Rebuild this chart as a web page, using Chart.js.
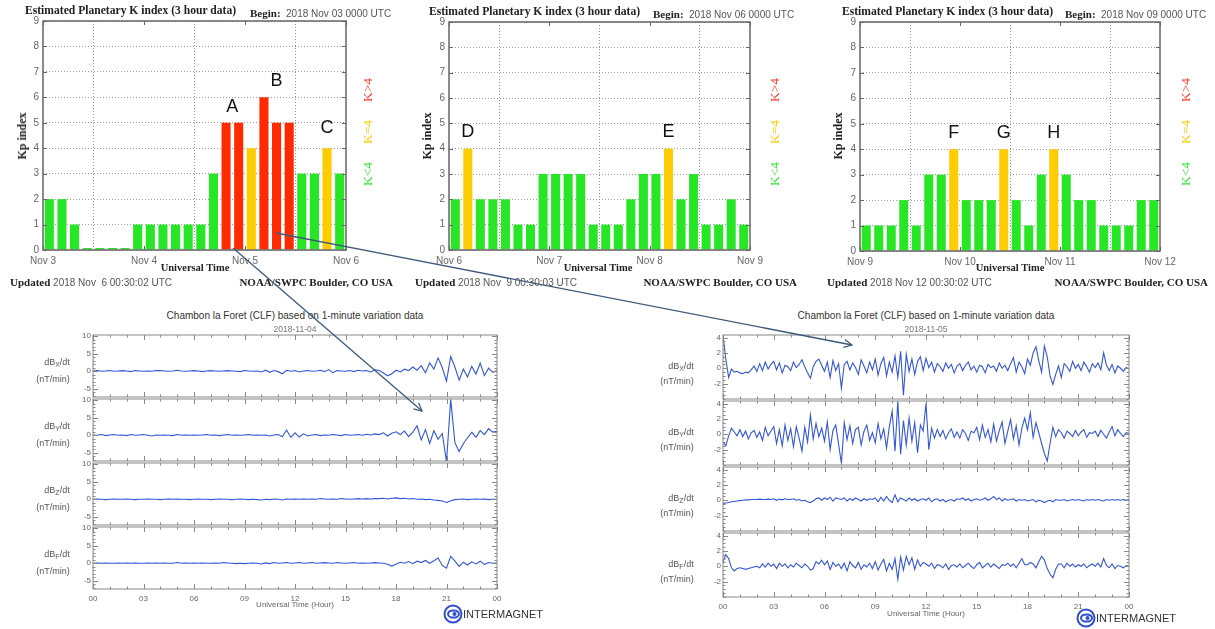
<!DOCTYPE html>
<html>
<head>
<meta charset="utf-8">
<script src="https://cdn.jsdelivr.net/npm/chart.js@4.4.1/dist/chart.umd.min.js"></script>
<style>
  body { margin: 0; background: #fff; }
  #page { position: relative; width: 1215px; height: 629px; overflow: hidden; font-family: 'Liberation Sans', Arial, sans-serif; }
  canvas { position: absolute; }
  .t { position: absolute; white-space: nowrap; line-height: 1; transform: translateY(-50%); z-index: 5; }
  .c { transform: translate(-50%, -50%); }
  .r { transform: translate(-100%, -50%); }
  .rot { transform: translate(-50%, -50%) rotate(-90deg); }
  .serif { font-family: 'Liberation Serif', 'DejaVu Serif', serif; font-weight: bold; color: #222; }
  .gray { font-family: 'Liberation Sans', Arial, sans-serif; font-weight: normal; color: #555; }
  .leg { font-family: 'Liberation Serif', serif; font-size: 13.5px; }
  .idl { font-family: 'Liberation Sans', Arial, sans-serif; color: #333; }
  svg { position: absolute; left: 0; top: 0; z-index: 6; pointer-events: none; }
</style>
</head>
<body>
<div id="page"></div>
<script>
// ---------------- Kp index (3 hour bins) ----------------
const kpDays1 = ['Nov 3', 'Nov 4', 'Nov 5', 'Nov 6'];
const kpDays2 = ['Nov 6', 'Nov 7', 'Nov 8', 'Nov 9'];
const kpDays3 = ['Nov 9', 'Nov 10', 'Nov 11', 'Nov 12'];
const kpValues1 = [2, 2, 1, 0, 0, 0, 0, 1,  1, 1, 1, 1, 1, 3, 5, 5,  4, 6, 5, 5, 3, 3, 4, 3];
const kpValues2 = [2, 4, 2, 2, 2, 1, 1, 3,  3, 3, 3, 1, 1, 1, 2, 3,  3, 4, 2, 3, 1, 1, 2, 1];
const kpValues3 = [1, 1, 1, 2, 1, 3, 3, 4,  2, 2, 2, 4, 2, 1, 3, 4,  3, 2, 2, 1, 1, 1, 2, 2];
const kpTicks = [0, 1, 2, 3, 4, 5, 6, 7, 8, 9];

// ---------------- CLF 1-minute variation ----------------
const hourLabels = ['00', '03', '06', '09', '12', '15', '18', '21', '00'];
const ticksNov04 = [-5, 0, 5, 10];
const ticksNov05 = [-2, 0, 2, 4];

// 2018-11-04, 15 min steps (one row per hour)
const clf04Bx = [
  0.1, 0.2, 0.0, 0.1,   0.2, 0.0, 0.1, 0.2,   0.1, -0.1, 0.2, 0.1,   0.0, 0.1, 0.0, 0.2,
  0.2, 0.1, 0.0, 0.1,   0.3, 0.1, 0.0, 0.1,   0.2, 0.1, -0.1, 0.1,   0.2, 0.1, 0.0, 0.1,
  0.2, 0.1, 0.0, -0.1,  0.2, 0.1, 0.0, 0.1,   -0.2, 0.3, -0.3, 0.2,  -0.1, -0.7, 0.3, 0.0,
  0.2, -0.2, 0.1, 0.2,  0.0, 0.1, 0.3, -0.1,  0.5, -0.4, 0.2, 0.1,   0.0, 0.2, -0.1, 0.3,
  0.1, 0.2, -0.2, 0.4,  0.2, -0.5, -1.3, -0.7, 0.3, -0.2, 0.6, 0.2,  1.2, 0.3, 1.6, -0.4,
  2.4, 0.6, 3.8, 1.0,   -2.8, 4.2, 1.2, -2.5, 0.6, -1.6, 1.4, -0.8,  2.3, -1.2, 0.9, -0.3,
  0.2
];
const clf04By = [
  0.1, 0.0, 0.2, -0.1,  0.1, 0.2, 0.0, 0.1,   -0.1, 0.2, 0.0, 0.1,   0.2, 0.0, -0.2, 0.1,
  0.0, 0.1, 0.0, -0.1,  0.2, 0.0, 0.1, 0.0,   0.1, 0.0, 0.1, 0.2,    0.0, 0.1, -0.1, 0.1,
  0.2, 0.0, 0.1, 0.0,   0.1, 0.2, 0.0, 0.1,   0.0, 0.1, -0.2, 0.1,   0.2, -0.4, 1.5, -0.6,
  0.7, -0.5, 0.4, -0.2, 0.1, 0.2, -0.1, 0.1,  0.0, 0.2, 0.1, -0.1,   0.2, 0.0, 0.1, 0.2,
  0.0, 0.3, 0.1, 0.4,   0.2, 0.7, -0.2, 0.6,  1.0, 0.2, 1.2, -0.4,   0.9, 2.7, -1.3, 1.6,
  -2.3, 1.3, -1.1, 0.5, -7.5, 10.2, -2.1, -4.6, -2.4, -0.7, 0.8, -0.6, 1.3, 0.2, 1.9, 0.9,
  1.1
];
const clf04Bz = [
  0.0, 0.1, 0.0, -0.1,  0.0, 0.1, 0.0, 0.0,   0.1, 0.0, -0.1, 0.0,   0.0, 0.1, 0.0, 0.0,
  -0.1, 0.0, 0.1, 0.0,  0.1, 0.0, 0.0, -0.1,  0.0, 0.1, 0.0, 0.0,    -0.1, 0.0, 0.1, 0.0,
  0.0, -0.1, 0.0, 0.1,  0.0, -0.1, 0.0, -0.1, -0.2, 0.0, -0.1, 0.1,  0.0, -0.2, 0.1, 0.0,
  0.1, 0.0, 0.1, 0.0,   0.1, 0.0, 0.2, 0.1,   0.0, 0.1, 0.0, 0.2,    0.1, 0.0, 0.1, 0.2,
  0.1, 0.2, 0.1, 0.2,   0.2, 0.3, 0.1, 0.3,   0.4, 0.2, 0.3, 0.1,    0.2, 0.0, 0.1, -0.1,
  0.0, -0.2, -0.3, -0.5, -0.9, -0.4, -0.1, 0.0, 0.1, -0.1, 0.0, 0.1, 0.0, 0.1, -0.1, 0.0,
  0.0
];
const clf04Bf = [
  0.0, 0.1, 0.0, 0.1,   0.0, 0.0, 0.1, 0.0,   0.1, 0.0, 0.1, 0.0,    0.0, 0.1, 0.0, 0.1,
  0.0, 0.1, 0.0, 0.0,   0.2, 0.0, 0.1, 0.0,   0.1, 0.0, 0.1, 0.0,    0.0, 0.1, 0.0, 0.2,
  0.1, 0.0, -0.1, 0.0,  -0.1, 0.0, 0.1, 0.0,  -0.2, 0.1, -0.1, 0.2,  0.0, 0.1, 0.2, 0.0,
  0.1, 0.2, 0.0, 0.1,   0.2, 0.0, 0.1, 0.2,   0.1, 0.0, 0.2, 0.1,    0.0, 0.1, 0.2, 0.0,
  0.1, 0.0, 0.1, 0.2,   0.1, 0.0, -0.3, -0.8, -0.3, 0.3, 0.0, 0.5,   -0.1, 0.6, 0.2, 0.8,
  0.0, 0.7, 1.5, -0.6,  -1.4, 2.0, 0.6, -0.9, 0.3, -0.5, 0.4, -0.2,  0.6, -0.3, 0.2, 0.0,
  0.1
];

// 2018-11-05, 10 min steps (one row per hour)
const clf05Bx = [
  4.3, 1.2, -1.2, -0.1, -0.5, -0.4,
  -0.6, -0.7, -0.5, -0.6, -0.2, 0.3,
  -0.4, 0.6, -0.3, 0.8, -0.1, 0.5,
  0.9, -0.2, 0.7, -0.6, 0.4, 0.2,
  -0.3, 0.8, 0.1, 0.5, 1.1, 0.2,
  -0.6, -1.3, 0.2, 0.9, 1.2, 0.4,
  -0.4, 0.8, -1.2, 1.0, -0.3, 0.6,
  -2.6, 0.5, 0.9, -0.2, 0.7, 0.1,
  -0.8, 1.1, 0.3, -0.6, 0.8, -0.2,
  1.2, -0.9, 0.6, 1.4, -1.0, 0.8,
  -0.5, 1.6, -1.2, 2.2, -3.5, 1.8,
  -0.4, 1.2, -0.8, 0.9, 1.5, -0.3,
  1.3, 0.1, 0.8, -0.5, 0.6, 0.2,
  -0.4, 0.7, 0.0, 0.5, -0.6, 0.3,
  0.6, -0.3, 0.4, 0.8, -0.2, 0.3,
  -0.5, 0.4, 0.2, -0.6, 0.5, 0.1,
  0.3, -0.4, 0.7, 0.0, 0.4, -0.3,
  0.6, 1.4, -0.5, 0.8, 0.2, -0.7,
  1.2, 0.4, 2.0, 2.8, 1.0, -0.5,
  2.9, 1.5, -1.0, -2.1, -0.8, 0.3,
  -1.2, 0.6, 0.2, -0.4, 0.9, 0.0,
  0.5, -0.3, 0.8, 0.2, -0.5, 0.6,
  0.1, 0.7, -0.2, 2.0, 0.4, -0.3,
  0.5, -0.6, 0.3, 0.0, -0.4, 0.1,
  -0.1
];
const clf05By = [
  -1.0, -1.5, -0.2, 0.8, 0.3, -0.2,
  0.6, -0.3, 0.4, -0.6, 0.2, 0.5,
  -0.4, 0.3, -0.8, 0.9, -0.2, 0.4,
  1.0, -1.2, 0.6, -1.5, 1.2, -0.8,
  0.7, -1.6, 1.0, -0.5, -2.2, 0.9,
  -1.0, 2.5, -0.6, 1.4, -0.3, 0.8,
  -0.9, 1.6, -2.0, 0.5, 1.2, -1.3,
  -3.8, 1.5, -0.7, 1.1, -1.2, 0.6,
  0.9, -1.4, 0.4, 1.2, -0.8, 0.2,
  -1.1, 1.4, -0.6, 0.7, -1.8, 1.0,
  3.0, -2.2, 4.3, -2.6, 1.8, -1.4,
  2.1, -0.9, 1.5, -2.4, 1.2, 0.4,
  4.0, -2.0, 0.8, -0.5, 0.6, -0.3,
  0.5, -0.6, 0.2, 0.7, -0.4, 0.3,
  -0.5, 0.6, 0.1, -0.8, 0.4, 0.2,
  0.9, -0.7, 1.2, -0.4, 0.6, -1.0,
  1.3, -0.9, 0.5, 1.6, -1.2, 0.4,
  1.9, -0.6, 1.1, -1.4, 0.8, 2.1,
  0.6, 2.8, -0.4, 1.5, 0.2, -1.2,
  -2.5, -3.5, -1.2, 0.9, -0.3, 0.6,
  0.2, -0.5, 0.4, 0.1, -0.3, 0.5,
  -0.2, 0.3, 0.6, -0.4, 0.2, 0.1,
  0.4, -0.3, 0.5, 0.0, -0.5, 0.3,
  1.0, -0.2, 0.6, 0.1, -0.3, 0.2,
  0.1
];
const clf05Bz = [
  -0.4, -0.35, -0.3, -0.2, -0.15, -0.1,
  -0.05, 0.0, 0.05, 0.05, 0.1, 0.1,
  0.1, 0.15, 0.1, 0.1, 0.15, 0.1,
  0.2, 0.0, 0.15, 0.05, 0.2, 0.1,
  0.1, 0.2, 0.0, 0.1, -0.1, 0.0,
  -0.2, -0.3, -0.1, 0.2, 0.3, 0.0,
  0.3, 0.1, 0.4, -0.1, 0.3, 0.2,
  0.1, 0.3, -0.1, 0.2, 0.0, 0.3,
  0.1, -0.1, 0.2, 0.0, 0.2, 0.1,
  0.3, -0.2, 0.4, -0.1, 0.5, 0.0,
  -0.3, 0.7, -0.2, 0.3, 0.1, -0.1,
  0.3, 0.0, 0.2, -0.1, 0.1, 0.2,
  0.0, 0.3, -0.2, 0.1, 0.2, -0.1,
  0.1, -0.2, 0.0, 0.1, -0.1, 0.2,
  0.1, 0.3, 0.0, 0.2, -0.1, 0.1,
  0.2, 0.0, 0.1, 0.3, 0.0, 0.2,
  0.5, 0.1, 0.3, -0.1, 0.2, 0.0,
  0.1, 0.2, -0.1, 0.1, 0.0, 0.1,
  -0.1, 0.0, 0.1, -0.2, 0.0, -0.1,
  -0.3, -0.1, 0.0, -0.2, 0.1, 0.0,
  0.0, 0.1, -0.1, 0.0, 0.1, 0.0,
  0.1, 0.0, -0.1, 0.1, 0.0, 0.1,
  0.0, 0.1, 0.0, -0.1, 0.1, 0.0,
  0.1, 0.0, 0.1, 0.0, 0.1, 0.0,
  0.1
];
const clf05Bf = [
  0.5, 1.5, 1.0, -0.2, -0.6, -0.3,
  -0.2, -0.3, -0.4, -0.3, -0.2, -0.1,
  0.0, -0.2, 0.3, -0.1, 0.4, 0.0,
  0.3, -0.3, 0.4, 0.0, 0.3, -0.2,
  0.2, -0.1, 0.4, 0.1, -0.2, 0.3,
  0.0, -0.5, -0.3, 0.6, 0.3, 0.8,
  0.2, 0.7, -0.4, 0.5, 0.0, 0.3,
  -0.3, 0.4, -0.6, 0.6, 0.1, -0.2,
  0.5, -0.4, 0.2, -0.1, 0.4, -0.3,
  0.6, -0.5, 0.3, 0.9, -0.6, 0.4,
  -0.4, 1.0, -1.7, 1.2, -0.5, 1.3,
  0.2, 1.1, -0.4, 0.8, 0.0, 0.5,
  0.3, 0.0, 0.4, -0.3, 0.2, 0.1,
  -0.2, 0.3, -0.4, 0.1, 0.2, -0.1,
  0.3, -0.2, 0.1, 0.4, 0.0, -0.3,
  0.2, 0.5, -0.2, 0.1, 0.4, -0.1,
  0.3, 0.0, -0.3, 0.2, 0.1, 0.4,
  0.0, 0.3, -0.2, 0.4, 1.0, 0.2,
  0.2, 0.5, 0.3, -0.2, 0.6, 1.3,
  0.8, -0.3, -1.0, -1.5, -0.4, 0.3,
  0.3, -0.2, 0.4, 0.0, 0.3, -0.1,
  0.2, 0.0, 0.3, -0.2, 0.1, 0.3,
  0.0, 0.4, -0.1, 1.0, 0.1, -0.2,
  0.3, -0.3, 0.1, 0.0, -0.2, 0.1,
  0.0
];

// ---------------- helpers ----------------
const page = document.getElementById('page');
const SANS = "'Liberation Sans', Arial, sans-serif";

function addText(html, x, y, cls, style) {
  const d = document.createElement('div');
  d.className = 't ' + (cls || '');
  d.innerHTML = html;
  d.style.left = x + 'px';
  d.style.top = y + 'px';
  if (style) d.style.cssText += style;
  page.appendChild(d);
  return d;
}

function makeCanvas(rect) {
  const c = document.createElement('canvas');
  c.width = rect.w; c.height = rect.h;
  c.style.left = rect.x + 'px'; c.style.top = rect.y + 'px';
  c.style.width = rect.w + 'px'; c.style.height = rect.h + 'px';
  page.appendChild(c);
  return c;
}

// pins the chart area to the given page box
function fixBox(rect, area, xShown) {
  return {
    padding: {
      left: 0,
      top: area.t - rect.y,
      right: rect.x + rect.w - area.r,
      bottom: xShown ? 0 : rect.y + rect.h - area.b
    },
    yWidth: area.l - rect.x,
    xHeight: xShown ? rect.y + rect.h - area.b : 0
  };
}

// frame around the plot with IDL style inward ticks
const framePlugin = {
  id: 'frame',
  afterDatasetsDraw(chart, args, o) {
    const { ctx, chartArea: a, scales: { x, y } } = chart;
    ctx.save();
    ctx.strokeStyle = o.color || '#666';
    ctx.lineWidth = 1;
    const xt = (vals, len) => (vals || []).forEach(v => {
      const px = Math.round(x.getPixelForValue(v)) + 0.5;
      ctx.beginPath();
      ctx.moveTo(px, a.bottom); ctx.lineTo(px, a.bottom - len);
      ctx.moveTo(px, a.top); ctx.lineTo(px, a.top + len);
      ctx.stroke();
    });
    const yt = (vals, len) => (vals || []).forEach(v => {
      const py = Math.round(y.getPixelForValue(v)) + 0.5;
      ctx.beginPath();
      ctx.moveTo(a.left, py); ctx.lineTo(a.left + len, py);
      ctx.moveTo(a.right, py); ctx.lineTo(a.right - len, py);
      ctx.stroke();
    });
    xt(o.xMinor, o.minorLen); xt(o.xMajor, o.majorLen);
    yt(o.yMinor, o.minorLen); yt(o.yMajor, o.majorLen);
    ctx.lineWidth = o.width || 1.5;
    ctx.strokeRect(a.left, a.top, a.right - a.left, a.bottom - a.top);
    ctx.restore();
  }
};

// big letters A..H above chosen bars
const letterPlugin = {
  id: 'letters',
  afterDatasetsDraw(chart, args, o) {
    const { ctx, scales: { x, y } } = chart;
    ctx.save();
    ctx.font = "18px 'Liberation Sans', Arial, sans-serif";
    ctx.fillStyle = '#111';
    ctx.textAlign = 'center';
    ctx.textBaseline = 'middle';
    (o.items || []).forEach(it => ctx.fillText(it.text, x.getPixelForValue(it.x), y.getPixelForValue(it.y)));
    ctx.restore();
  }
};

function kpColor(v) {
  if (v > 4) return '#ff2a00';
  if (v === 4) return '#ffcc00';
  return '#26e626';
}

function kpChart(x0, area, values, days, letters) {
  const rect = { x: x0, y: 0, w: 405, h: 290 };
  const box = fixBox(rect, area, true);
  return new Chart(makeCanvas(rect), {
    type: 'bar',
    data: {
      datasets: [{
        data: values.map((v, i) => ({ x: i + 0.5, y: v })),
        backgroundColor: values.map(kpColor),
        barPercentage: 0.72,
        categoryPercentage: 1,
        minBarLength: 2,
        borderWidth: 0
      }]
    },
    options: {
      responsive: false,
      animation: false,
      devicePixelRatio: 1,
      layout: { padding: box.padding },
      plugins: {
        legend: { display: false },
        tooltip: { enabled: false },
        frame: { xMajor: [0, 8, 16, 24], yMajor: kpTicks, majorLen: 4, color: '#666', width: 1.5 },
        letters: { items: letters }
      },
      scales: {
        x: {
          type: 'linear', min: 0, max: 24, offset: false,
          afterFit: s => { s.height = box.xHeight; },
          afterBuildTicks: s => { s.ticks = days.map((d, i) => ({ value: i * 8 })); },
          ticks: { callback: (v, i) => days[i], font: { family: SANS, size: 10 }, color: '#666', padding: 5, maxRotation: 0, autoSkip: false },
          grid: { color: '#9a9a9a', drawTicks: false },
          border: { display: false, dash: [1, 2] }
        },
        y: {
          min: 0, max: 9,
          afterFit: s => { s.width = box.yWidth; },
          afterBuildTicks: s => { s.ticks = kpTicks.map(v => ({ value: v })); },
          ticks: { font: { family: SANS, size: 10 }, color: '#666', padding: 4 },
          grid: { color: '#9a9a9a', drawTicks: false },
          border: { display: false, dash: [1, 2] }
        }
      }
    },
    plugins: [framePlugin, letterPlugin]
  });
}

const hourMajor = [], hourMinor = [];
for (let h = 0; h <= 24; h++) { hourMinor.push(h); if (h % 3 === 0) hourMajor.push(h); }

function traceChart(rect, area, values, yMin, yMax, yTicks, yMinorStep, showX) {
  const box = fixBox(rect, area, showX);
  const n = values.length;
  const yMinor = [];
  for (let v = Math.ceil(yMin / yMinorStep) * yMinorStep; v <= yMax; v += yMinorStep) yMinor.push(v);
  return new Chart(makeCanvas(rect), {
    type: 'line',
    data: {
      datasets: [{
        data: values.map((v, i) => ({ x: i * 24 / (n - 1), y: v })),
        borderColor: '#3456d6',
        borderWidth: 1.1,
        pointRadius: 0,
        tension: 0
      }]
    },
    options: {
      responsive: false,
      animation: false,
      devicePixelRatio: 1,
      layout: { padding: box.padding },
      plugins: {
        legend: { display: false },
        tooltip: { enabled: false },
        frame: { xMajor: hourMajor, xMinor: hourMinor, yMajor: yTicks, yMinor: yMinor, majorLen: 5, minorLen: 2.5, color: '#888', width: 1 }
      },
      scales: {
        x: {
          type: 'linear', min: 0, max: 24, display: showX,
          afterFit: s => { if (showX) s.height = box.xHeight; },
          afterBuildTicks: s => { s.ticks = hourLabels.map((h, i) => ({ value: i * 3 })); },
          ticks: { callback: (v, i) => hourLabels[i], font: { family: SANS, size: 8 }, color: '#666', padding: 5, maxRotation: 0, autoSkip: false },
          grid: { display: false, drawTicks: false },
          border: { display: false }
        },
        y: {
          min: yMin, max: yMax,
          afterFit: s => { s.width = box.yWidth; },
          afterBuildTicks: s => { s.ticks = yTicks.map(v => ({ value: v })); },
          ticks: { font: { family: SANS, size: 8 }, color: '#666', padding: 2 },
          grid: { display: false, drawTicks: false },
          border: { display: false }
        }
      }
    },
    plugins: [framePlugin]
  });
}

// ---------------- Kp panels ----------------
kpChart(0, { l: 43, r: 346, t: 21, b: 250 }, kpValues1, kpDays1, [
  { text: 'A', x: 15, y: 5.6 }, { text: 'B', x: 18.5, y: 6.65 }, { text: 'C', x: 22.5, y: 4.8 }
]);
kpChart(405, { l: 449, r: 750, t: 22, b: 250 }, kpValues2, kpDays2, [
  { text: 'D', x: 1.5, y: 4.65 }, { text: 'E', x: 17.5, y: 4.65 }
]);
kpChart(810, { l: 860, r: 1160, t: 22, b: 251 }, kpValues3, kpDays3, [
  { text: 'F', x: 7.5, y: 4.65 }, { text: 'G', x: 11.5, y: 4.65 }, { text: 'H', x: 15.5, y: 4.65 }
]);

const kpText = [
  { title: 25, y: 11, begin: 250, date: '2018 Nov 03 0000 UTC', upd: 10, updDate: '2018 Nov &nbsp;6 00:30:02 UTC', noaa: 393, ylab: 22, xlab: 195, leg: 368 },
  { title: 429, y: 12, begin: 653, date: '2018 Nov 06 0000 UTC', upd: 415, updDate: '2018 Nov &nbsp;9 00:30:03 UTC', noaa: 797, ylab: 427, xlab: 598, leg: 775 },
  { title: 842, y: 12, begin: 1065, date: '2018 Nov 09 0000 UTC', upd: 827, updDate: '2018 Nov 12 00:30:02 UTC', noaa: 1208, ylab: 838, xlab: 1010, leg: 1186 }
];
kpText.forEach(k => {
  addText('Estimated Planetary K index (3 hour data)', k.title, k.y, 'serif', 'font-size:11.6px;');
  addText('Begin: &nbsp;<span class="gray" style="font-size:10px;">' + k.date + '</span>', k.begin, k.y + 2, 'serif', 'font-size:11px;');
  addText('Kp index', k.ylab, 136, 'serif rot', 'font-size:12px;');
  addText('Universal Time', k.xlab, 268, 'serif c', 'font-size:10.5px;');
  addText('Updated <span class="gray" style="font-size:10px;">' + k.updDate + '</span>', k.upd, 282, 'serif', 'font-size:11px;');
  addText('NOAA/SWPC Boulder, CO USA', k.noaa, 282, 'serif r', 'font-size:11px;');
  addText('K&gt;4', k.leg, 90, 'leg rot', 'color:#ff3a2a;');
  addText('K=4', k.leg, 132, 'leg rot', 'color:#ffcc00;');
  addText('K&lt;4', k.leg, 174, 'leg rot', 'color:#33e633;');
});

// ---------------- CLF panels ----------------
const comps = ['X', 'Y', 'Z', 'F'];
const panels = [
  { series: [clf04Bx, clf04By, clf04Bz, clf04Bf], date: '2018-11-04', l: 93, r: 497, tops: [335, 399, 463, 527], h: 62,
    yMin: -7.3, yMax: 10.3, ticks: ticksNov04, minor: 1, labX: 57, labDy: [28, 44], canvasX: 50, utY: 605, logoX: 453, logoY: 614 },
  { series: [clf05Bx, clf05By, clf05Bz, clf05Bf], date: '2018-11-05', l: 723, r: 1129, tops: [335, 401, 467, 533], h: 64,
    yMin: -4.0, yMax: 4.33, ticks: ticksNov05, minor: 0.5, labX: 681, labDy: [32, 46], canvasX: 680, utY: 614, logoX: 1086, logoY: 618 }
];
panels.forEach(p => {
  const mid = (p.l + p.r) / 2;
  addText('Chambon la Foret (CLF) based on 1-minute variation data', mid, 316, 'idl c', 'font-size:10px;');
  addText(p.date, mid, 329, 'idl c', 'font-size:8.5px;color:#777;');
  p.series.forEach((vals, k) => {
    const last = k === 3;
    const t = p.tops[k];
    const rect = { x: p.canvasX, y: t - 8, w: 470, h: p.h + 16 + (last ? 10 : 0) };
    traceChart(rect, { l: p.l, r: p.r, t: t, b: t + p.h }, vals, p.yMin, p.yMax, p.ticks, p.minor, last);
    addText('dB<sub style="font-size:7px;">' + comps[k] + '</sub>/dt', p.labX, t + p.labDy[0], 'idl c', 'font-size:9px;color:#555;');
    addText('(nT/min)', p.labX - 4, t + p.labDy[1], 'idl c', 'font-size:9px;color:#555;');
  });
  addText('Universal Time (Hour)', mid, p.utY, 'idl c', 'font-size:8px;color:#666;');
  addText('<svg width="20" height="20" viewBox="0 0 20 20" style="position:static;display:inline-block;vertical-align:middle;">' +
    '<circle cx="10" cy="10" r="8.5" fill="none" stroke="#2f4fd0" stroke-width="2"/>' +
    '<ellipse cx="10.5" cy="10" rx="5.5" ry="3.6" fill="none" stroke="#2f4fd0" stroke-width="2"/>' +
    '<circle cx="11.5" cy="10" r="2" fill="#2f4fd0"/></svg>' +
    '<span style="font-size:11px;color:#333;vertical-align:middle;">INTERMAGNET</span>', p.logoX - 10, p.logoY, 'idl');
});
</script>
<svg width="1215" height="629" viewBox="0 0 1215 629">
  <defs>
    <marker id="ah" markerWidth="10" markerHeight="10" refX="9" refY="5" orient="auto" markerUnits="userSpaceOnUse">
      <path d="M1,1 L9,5 L1,9" fill="none" stroke="#3d5a7a" stroke-width="1.2"/>
    </marker>
  </defs>
  <line x1="233" y1="248" x2="422" y2="411" stroke="#3d5a7a" stroke-width="1.3" marker-end="url(#ah)"/>
  <line x1="276" y1="233" x2="852" y2="345" stroke="#3d5a7a" stroke-width="1.3" marker-end="url(#ah)"/>
</svg>
</body>
</html>
